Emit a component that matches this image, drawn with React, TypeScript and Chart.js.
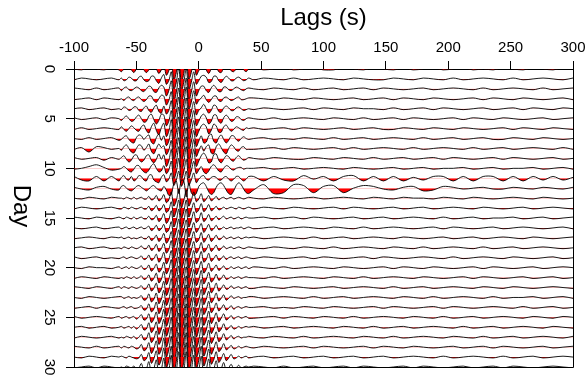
import { useEffect, useRef } from 'react';
import { Chart, registerables } from 'chart.js';

Chart.register(...registerables);

// Lag samples (s): coarse on the flanks, dense around the arrival
const LAGS = [
  -100, -94, -88, -82, -76, -70, -64,
  -62, -60, -58, -56, -54, -52, -50, -48, -46, -44,
  -42, -40, -38, -36, -34, -32, -30, -28,
  -26, -24, -22, -20, -18, -16, -14, -12, -10, -8, -6, -4, -2, 0,
  2, 4, 6, 8, 10, 12, 14, 16, 18, 20, 22, 24, 26, 28, 30, 32, 34, 36, 38, 40,
  44, 52, 60, 68, 76, 84, 92, 100, 108, 116, 124,
  132, 140, 148, 156, 164, 172, 180, 188, 196, 204, 212,
  220, 228, 236, 244, 252, 260, 268, 276, 284, 292, 300,
];

const LAG_TICKS = [-100, -50, 0, 50, 100, 150, 200, 250, 300];
const DAY_TICKS = [0, 5, 10, 15, 20, 25, 30];
const X_TITLE = 'Lags (s)';
const Y_TITLE = 'Day';

// Trace amplitudes, tenths of the day spacing (positive = downward, red)
const day00 = [0,1,-1,0,1,-1,1, 3,0,-2,-2,1,4,0,-3,-2,1, 4,1,-3,-4,0,5,1,-5, 7,2,-9,13,4,-12,15,5,-13,12,4,-9,7,2, -2,-5,1,5,0,-4,-2,3,4,-1,-3,-2,2,3,0,-2,-2,1,3,0, -1,1,0,-1,1,0,-1,1,1,-1,0, 1,-1,0,1,-1,1,0,-1,1,0,-1, 1,0,1,-1,0,1,-1,0,1,-1,0];
const day01 = [1,-1,0,1,0,-1,1, -1,2,1,-2,-1,2,2,-2,-3,1, 3,2,-3,-3,2,5,-1,-5, 6,2,-8,12,4,-13,14,4,-12,13,4,-8,6,2, -3,-4,-2,4,3,-3,-3,2,4,0,-3,-1,2,2,-1,-2,0,2,1,-1, 1,-1,0,1,-1,1,0,-1,0,1,-1, 0,1,1,-1,0,1,-1,0,1,-1,1, 0,-1,0,1,-1,1,0,-1,0,1,-1];
const day02 = [-1,0,1,-1,1,0,-1, 2,-1,-2,1,2,0,-2,-1,2,3, 0,-3,-2,3,4,-1,-4,-2, 8,2,-9,14,4,-12,15,5,-12,14,4,-8,8,2, -3,-3,2,4,-1,-4,-1,3,3,-2,-2,1,2,0,-2,-1,1,2,0,-1, 0,1,-1,0,1,-1,1,0,-1,1,0, -1,1,-1,0,1,0,-1,1,0,-1,0, 1,-1,1,0,-1,0,1,-1,1,0,-1];
const day03 = [1,0,-1,1,-1,0,1, 0,2,-1,-2,1,2,-1,-2,1,3, 1,-3,-3,2,4,0,-4,-3, 7,2,-8,13,4,-12,16,5,-13,12,4,-9,6,2, -1,-4,1,4,1,-3,-3,2,3,-1,-2,0,2,1,-1,-2,1,1,0,-1, -1,0,1,-1,0,1,-1,0,1,0,-1, 1,0,-1,1,-1,0,1,-1,0,1,0, -1,1,-1,0,1,-1,0,1,0,-1,1];
const day04 = [0,-1,1,0,-1,1,0, 1,-2,-1,2,1,-2,-2,2,3,-1, -3,2,4,-1,-4,3,5,-3, 6,2,-9,13,4,-13,14,4,-12,13,4,-8,7,2, -1,-5,0,5,2,-4,-3,3,4,-1,-3,-1,2,2,-1,-2,0,2,1,0, 1,-1,0,1,0,-1,1,-1,0,1,-1, 0,0,1,-1,1,0,-1,1,-1,0,1, 0,-1,1,0,-1,1,-1,0,1,-1,0];
const day05 = [-1,1,0,-1,1,-1,0, 2,-1,-3,0,3,2,-2,-4,0,4, 3,-3,-5,1,6,2,-5,-4, 8,3,-9,15,5,-13,16,5,-12,14,4,-9,8,3, -3,-5,-1,6,3,-4,-4,3,5,-1,-4,-1,3,2,-2,-2,1,2,0,-1, 0,1,-1,1,0,-1,0,1,-1,0,1, -1,1,0,-1,1,-1,0,1,0,-1,1, -1,0,1,-1,0,1,0,-1,1,0,-1];
const day06 = [1,-1,1,0,-1,0,1, -2,1,3,0,-3,-1,2,3,-2,-4, 2,5,-2,-6,2,7,-1,-6, 9,3,-10,14,4,-13,15,5,-13,15,5,-9,9,3, -3,-5,-2,6,2,-5,-3,4,4,-2,-4,0,3,1,-2,-1,1,2,-1,0, -1,1,0,-1,1,-1,0,1,0,-1,1, 0,-1,1,1,-1,0,1,-1,0,1,-1, 0,1,0,-1,1,-1,0,1,-1,0,1];
const day07 = [0,1,-1,1,0,-1,2, 1,-2,-3,1,4,5,-1,-4,-3,1, -2,-4,4,6,-1,-5,2,-3, 8,3,-10,15,5,-13,16,5,-12,14,4,-9,9,3, -3,5,4,-3,-5,3,5,-1,-4,1,5,2,-3,-3,1,3,0,-2,0,1, 0,-1,1,0,1,-1,0,1,-1,1,0, -1,1,0,-1,0,1,-1,1,0,-1,1, 0,-1,1,1,-1,0,1,-1,0,1,0];
const day08 = [1,-1,4,-2,-1,1,0, 2,-2,-4,0,4,5,0,-4,-3,2, -1,-5,3,6,0,-5,-1,-3, 7,2,-9,14,4,-12,15,5,-13,15,5,-10,9,3, -3,3,-2,-4,5,6,-2,-5,-1,4,6,0,-4,-2,2,3,-1,-2,1,1, 1,0,-1,1,-1,0,1,0,-1,1,-1, 1,0,-1,0,1,-1,1,0,-1,0,1, -1,1,0,-1,1,0,-1,0,1,-1,1];
const day09 = [-1,1,0,-1,2,-1,1, -1,-3,1,4,2,-3,-4,1,4,2, -3,-4,2,5,1,-5,1,-4, 9,3,-10,15,5,-13,16,5,-13,15,5,-10,9,3, -3,-6,-2,5,4,-4,-5,2,5,1,-3,-2,2,3,-1,-3,0,2,1,-1, 0,1,-1,0,1,1,-1,0,1,-1,0, 1,-1,1,0,-1,1,0,-1,1,-1,0, 1,0,-1,1,-1,0,1,0,-1,1,0];
const day10 = [1,0,-2,-4,-1,2,1, 0,-2,0,3,4,1,-3,-3,1,4, 5,2,-3,-5,0,4,3,-3, 6,2,-8,12,4,-11,13,4,-10,11,3,-8,6,2, -2,4,6,3,-2,-4,-1,3,4,0,-3,-2,1,2,0,-1,-1,1,0,0, 0,-1,1,0,-1,1,0,-1,0,1,-1, 0,1,0,-1,1,0,-1,1,0,0,-1, 1,0,-1,1,0,0,-1,1,0,-1,1];
const day11 = [-2,2,3,-2,3,-2,3, -1,-3,1,2,-2,3,1,-3,-2,2, 3,-3,-4,2,4,5,-1,-4, 4,1,-6,8,2,-8,9,3,-8,8,2,-6,5,1, -2,-3,1,2,-1,-2,-1,2,2,-1,-2,1,3,1,-2,-2,1,3,1,-2, -2,3,-2,2,3,-3,1,-2,3,-2,-3, 3,-2,3,-2,3,-1,2,-2,-2,3,-2, 3,-2,-2,3,-2,3,-2,2,-2,2,-1];
const day12 = [-1,1,2,-1,-2,1,2, -2,-3,0,2,3,1,-2,-3,-1,1, 3,1,-2,-3,0,2,3,-2, 2,8,7,-5,-8,6,-9,-8,10,-6,5,8,6,-2, -5,-6,-2,4,7,5,-1,-5,-6,-3,2,6,7,3,-3,-6,-4,1,5,6, 2,-4,6,5,-4,-3,5,-2,-3,5,0, -3,-2,1,2,-1,-2,3,2,-2,-1,1, 0,-1,1,1,-1,0,1,-1,0,1,-1];
const day13 = [0,1,-1,0,1,-1,0, 0,1,-1,0,1,-1,1,0,-1,1, 1,-2,2,1,-3,3,1,-4, 5,2,-7,9,3,-10,11,3,-9,9,3,-7,4,1, -5,4,1,-3,3,1,-2,2,0,-1,1,0,-1,1,0,-1,0,1,0,-1, 0,1,-1,0,1,0,-1,1,0,-1,0, 1,-1,0,1,-1,0,0,1,-1,0,1, -1,0,1,0,-1,0,1,-1,0,1,0];
const day14 = [1,-1,0,1,0,-1,1, 1,-1,0,1,-1,0,1,0,-1,1, 1,-2,3,1,-3,3,1,-4, 5,2,-7,10,3,-9,12,4,-9,10,3,-6,5,2, -5,4,1,-4,3,1,-2,2,1,-1,1,0,-1,0,1,-1,0,1,0,-1, 1,-1,0,1,-1,0,1,0,-1,1,-1, 0,1,0,-1,1,0,-1,1,0,-1,0, 1,-1,0,1,0,-1,1,0,-1,0,1];
const day15 = [-1,0,1,-1,0,1,-1, 0,1,-1,0,1,-1,1,0,-1,1, 1,-2,2,1,-3,4,1,-5, 6,2,-8,10,3,-10,12,4,-10,10,3,-7,5,2, -6,4,1,-4,3,1,-2,2,0,-2,1,0,-1,1,0,-1,1,0,-1,0, 0,-1,1,0,-1,1,-1,0,1,0,-1, 1,0,-1,1,0,-1,0,1,-1,1,0, -1,1,0,0,-1,1,0,-1,1,0,-1];
const day16 = [0,1,0,-1,1,0,-1, 1,0,-1,1,0,-1,1,0,-1,1, 0,-2,3,1,-3,3,1,-4, 5,2,-7,11,3,-10,11,3,-9,10,3,-6,5,1, -5,5,1,-4,3,1,-3,2,1,-1,1,0,-1,1,0,0,-1,1,0,-1, 1,0,-1,1,0,-1,0,1,-1,0,1, -1,1,0,-1,0,1,0,-1,1,-1,0, 1,0,-1,1,0,-1,0,1,0,-1,1];
const day17 = [1,0,-1,0,1,-1,0, -1,1,0,-1,1,0,1,0,-1,1, 1,-2,3,1,-3,4,1,-5, 6,2,-7,11,3,-9,12,4,-10,11,3,-7,5,2, -6,5,1,-4,4,1,-3,2,1,-2,1,0,-1,1,0,-1,1,0,-1,0, -1,1,0,-1,0,1,-1,1,0,-1,1, 0,-1,0,1,-1,0,1,0,-1,1,0, -1,1,0,-1,0,1,-1,0,1,0,-1];
const day18 = [0,-1,1,0,-1,1,0, 1,-1,0,1,-1,0,1,0,-2,1, 1,-3,3,1,-4,4,1,-5, 6,2,-8,12,4,-11,13,4,-10,11,3,-7,6,2, -6,5,2,-4,4,1,-3,3,1,-2,1,0,-1,1,0,-1,0,1,0,-1, 0,1,-1,0,1,-1,0,1,-1,1,0, -1,0,1,-1,0,1,-1,1,0,-1,0, 1,-1,1,0,-1,1,0,-1,0,1,0];
const day19 = [-1,1,0,-1,1,0,1, 0,-1,1,0,-1,0,1,0,-2,2, 1,-3,3,1,-4,5,1,-6, 7,2,-8,12,4,-11,13,4,-11,12,4,-8,7,2, -7,5,2,-5,4,1,-3,3,1,-2,2,0,-1,1,0,-1,1,0,-1,0, 1,-1,0,1,0,-1,1,-1,0,1,0, -1,1,-1,0,1,0,-1,0,1,-1,1, 0,-1,0,1,-1,0,1,0,-1,1,0];
const day20 = [0,1,-1,0,0,1,-1, 1,0,-1,1,-1,0,1,0,-2,2, 1,-3,4,1,-4,5,2,-6, 7,2,-9,13,4,-12,14,4,-11,12,4,-8,8,2, -7,6,2,-5,4,1,-3,3,1,-2,2,1,-1,1,0,-1,1,0,-1,1, -1,0,1,-1,1,0,-1,0,1,-1,0, 1,0,-1,1,-1,0,1,-1,0,1,0, -1,1,-1,0,1,0,-1,1,0,-1,0];
const day21 = [1,-1,0,1,-1,0,1, 0,1,-1,0,1,-1,1,0,-2,2, 1,-3,4,1,-5,6,2,-7, 8,2,-9,12,4,-13,14,4,-12,12,4,-9,9,3, -8,7,2,-6,5,2,-4,3,1,-3,2,1,-1,1,0,-1,1,0,-1,0, 0,1,-1,1,0,-1,0,1,-1,0,1, -1,1,0,-1,0,1,-1,0,1,0,-1, 1,-1,0,1,0,-1,1,0,-1,1,0];
const day22 = [-1,0,1,-1,0,1,-1, 1,-1,0,1,-1,0,1,0,-2,2, 1,-4,4,1,-5,6,2,-7, 9,3,-10,13,4,-14,15,5,-13,13,4,-10,10,3, -9,8,2,-6,6,2,-5,4,1,-3,2,1,-2,1,0,-1,1,0,-1,1, 1,-1,0,1,-1,0,1,0,-1,1,0, -1,0,1,-1,1,0,-1,1,0,-1,0, 1,-1,0,1,-1,0,1,0,-1,0,1];
const day23 = [0,1,-1,0,1,0,-1, -1,1,0,-1,1,0,1,0,-2,3, 2,-4,5,2,-5,7,2,-8, 9,3,-10,14,4,-14,15,5,-14,14,4,-10,10,3, -9,8,2,-7,6,2,-5,4,1,-3,3,1,-2,1,0,-1,1,0,0,-1, -1,1,0,-1,0,1,-1,1,0,-1,1, 0,-1,0,1,-1,0,1,-1,1,0,-1, 0,1,-1,1,0,0,-1,1,0,-1,1];
const day24 = [1,0,-1,1,-1,0,1, 0,-1,1,0,-1,1,1,0,-2,3, 2,-4,5,2,-6,7,2,-8, 10,3,-10,14,4,-15,16,5,-14,14,4,-11,11,3, -10,8,3,-7,6,2,-5,4,1,-3,3,1,-2,2,0,-1,1,0,-1,0, 0,-1,1,0,1,-1,0,1,-1,0,1, 0,-1,1,-1,0,1,0,-1,1,-1,0, 1,0,-1,0,1,-1,1,0,-1,1,0];
const day25 = [-1,1,0,-1,0,1,-1, 1,0,-1,1,0,-1,2,0,-3,3, 2,-4,6,2,-6,7,2,-9, 10,3,-11,15,5,-15,16,5,-15,15,5,-11,11,3, -10,9,3,-7,7,2,-5,5,1,-4,3,1,-2,2,0,-1,1,0,-1,1, 1,0,-1,1,-1,0,1,-1,0,1,-1, 1,0,-1,0,1,-1,0,1,-1,1,0, -1,1,0,-1,0,1,-1,0,1,-1,0];
const day26 = [0,-1,1,0,-1,1,0, -1,1,0,-1,1,-1,2,0,-3,3, 2,-5,6,2,-6,8,2,-9, 10,3,-11,15,5,-16,17,5,-15,15,5,-12,11,3, -11,9,3,-8,7,2,-6,5,2,-4,3,1,-2,2,1,-1,1,0,-1,0, -1,1,0,-1,1,0,-1,0,1,-1,0, 1,-1,1,0,-1,1,0,-1,0,1,-1, 1,0,-1,1,0,-1,0,1,-1,0,1];
const day27 = [1,-1,0,1,0,-1,1, 0,1,-1,0,1,-1,2,0,-3,3, 2,-5,6,2,-7,8,3,-9, 11,3,-11,15,5,-16,17,5,-16,16,5,-12,12,4, -11,9,3,-8,7,2,-6,5,2,-4,3,1,-2,2,0,-1,1,0,0,-1, 0,1,-1,0,1,-1,1,0,-1,0,1, -1,0,1,-1,1,0,-1,0,1,-1,0, 1,-1,1,0,-1,1,0,-1,0,1,-1];
const day28 = [-1,0,1,-1,1,0,-1, 1,-1,0,1,-1,0,2,1,-3,4, 2,-5,7,2,-7,8,3,-10, 11,3,-12,16,5,-16,18,5,-16,16,5,-12,12,4, -11,10,3,-8,8,2,-6,5,2,-4,3,1,-2,2,1,-1,1,0,-1,0, 1,-1,0,1,0,-1,1,-1,0,1,0, -1,1,-1,0,1,-1,0,1,0,-1,1, 0,-1,1,-1,0,1,0,-1,1,0,-1];
const day29 = [0,1,-1,0,1,-1,0, -1,0,1,-1,0,1,2,1,-3,4, 2,-5,7,2,-7,9,3,-10, 12,4,-12,16,5,-17,18,5,-16,17,5,-13,13,4, -12,10,3,-9,8,3,-6,6,2,-4,4,1,-3,2,1,-1,1,0,-1,1, 0,-1,1,0,-1,1,0,-1,1,0,-1, 1,0,-1,1,0,-1,0,1,-1,1,0, -1,0,1,-1,1,0,-1,1,0,-1,0];
const day30 = [1,0,-1,1,-1,0,1, 0,1,-1,0,1,-1,2,1,-4,4, 2,-6,7,2,-8,9,3,-10, 12,4,-13,17,5,-17,19,6,-17,17,5,-13,13,4, -12,10,3,-9,8,3,-7,6,2,-5,4,1,-3,2,1,-2,1,0,-1,0, -1,0,1,-1,1,0,-1,1,0,-1,1, -1,0,1,0,-1,1,-1,0,1,0,-1, 1,0,-1,1,-1,0,1,0,-1,0,1];

const TRACES = [
  day00, day01, day02, day03, day04, day05, day06, day07, day08, day09,
  day10, day11, day12, day13, day14, day15, day16, day17, day18, day19,
  day20, day21, day22, day23, day24, day25, day26, day27, day28, day29, day30,
];

const FONT = '"Liberation Sans", Arial, Helvetica, sans-serif';
const GAIN = 0.9; // wiggle display gain (day spacings per 10 units)

const frame = {
  id: 'frame',
  afterDraw(chart: any) {
    const { ctx, chartArea: a } = chart;
    ctx.save();
    ctx.strokeStyle = '#000';
    ctx.lineWidth = 1;
    ctx.beginPath();
    const r = Math.round(a.right) + 0.5;
    const b = Math.round(a.bottom) + 0.5;
    ctx.moveTo(Math.round(a.left) + 0.5, b);
    ctx.lineTo(r, b);
    ctx.lineTo(r, Math.round(a.top) + 0.5);
    ctx.stroke();
    // y-axis title, rotated clockwise
    ctx.translate(21, 206);
    ctx.rotate(Math.PI / 2);
    ctx.font = '24px ' + FONT;
    ctx.fillStyle = '#000';
    ctx.textAlign = 'center';
    ctx.textBaseline = 'middle';
    ctx.fillText(Y_TITLE, 0, 0);
    ctx.restore();
  },
};

export default function App() {
  const ref = useRef<HTMLCanvasElement>(null);
  useEffect(() => {
    TRACES.forEach((t, i) => {
      if (t.length !== LAGS.length) throw new Error('trace ' + i + ' has ' + t.length + ' values');
    });
    const datasets = TRACES.map((amps, day) => ({
      data: LAGS.map((lag, i) => ({ x: lag, y: day + (amps[i] / 10) * GAIN })),
      borderColor: '#000',
      borderWidth: 0.9,
      pointRadius: 0,
      tension: 0.3,
      order: 30 - day,
      fill: { target: { value: day }, above: 'rgba(0,0,0,0)', below: '#ff0000' },
    }));
    const chart = new Chart(ref.current!, {
      type: 'line',
      data: { datasets },
      options: {
        animation: false,
        responsive: false,
        devicePixelRatio: 1,
        layout: { padding: { left: 0, top: 0, right: 13, bottom: 10 } },
        plugins: { legend: { display: false }, tooltip: { enabled: false } },
        scales: {
          x: {
            type: 'linear',
            position: 'top',
            min: -100,
            max: 300,
            afterBuildTicks: (s: any) => { s.ticks = LAG_TICKS.map((v) => ({ value: v })); },
            afterFit: (s: any) => { s.height = 69; s.paddingLeft = 0; s.paddingRight = 0; },
            grid: { drawOnChartArea: false, drawTicks: true, tickLength: 8, color: '#000', lineWidth: 1 },
            border: { display: true, color: '#000', width: 1 },
            ticks: { color: '#000', font: { family: FONT, size: 15 }, padding: 4, maxRotation: 0, autoSkip: false },
            title: { display: true, text: X_TITLE, color: '#000', font: { family: FONT, size: 24, lineHeight: 1 }, padding: { top: 6, bottom: 0 } },
          },
          y: {
            type: 'linear',
            reverse: true,
            min: 0,
            max: 30,
            afterBuildTicks: (s: any) => { s.ticks = DAY_TICKS.map((v) => ({ value: v })); },
            afterFit: (s: any) => { s.width = 74; s.paddingTop = 0; s.paddingBottom = 0; },
            grid: { drawOnChartArea: false, drawTicks: true, tickLength: 8, color: '#000', lineWidth: 1 },
            border: { display: true, color: '#000', width: 1 },
            ticks: { color: '#000', font: { family: FONT, size: 15 }, padding: 9, minRotation: -90, maxRotation: -90, crossAlign: 'center', autoSkip: false },
          },
        },
      },
      plugins: [frame],
    } as any);
    return () => chart.destroy();
  }, []);
  return (
    <canvas
      ref={ref}
      width={586}
      height={377}
      style={{ display: 'block', position: 'absolute', left: 0, top: 0 }}
    />
  );
}
